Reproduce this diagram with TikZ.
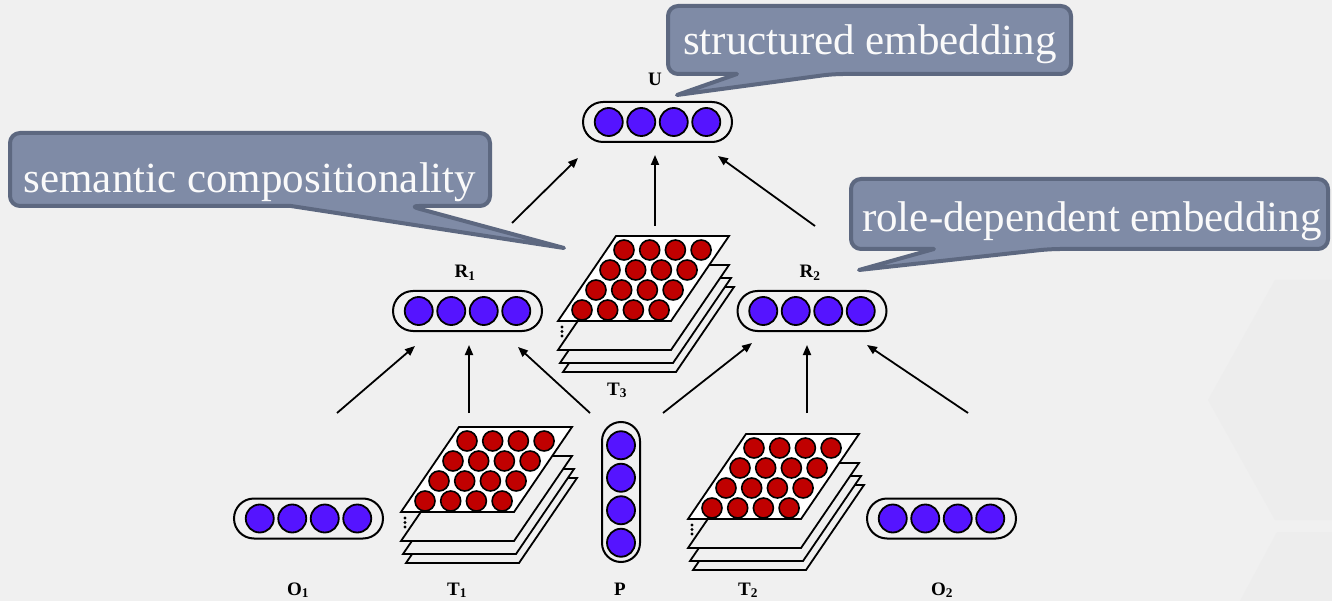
\documentclass[tikz,border=0pt]{standalone}
\usepackage{fontspec}
\setmainfont{Liberation Serif}
\usetikzlibrary{arrows.meta,calc}

\definecolor{bg}{RGB}{240,240,240}
\definecolor{hexshade}{RGB}{237,237,237}
\definecolor{dotblue}{RGB}{85,20,255}
\definecolor{dotred}{RGB}{192,0,0}
\definecolor{calloutfill}{RGB}{127,139,166}
\definecolor{calloutline}{RGB}{93,104,128}
\definecolor{callouttext}{RGB}{250,250,250}

\tikzset{
  bluedot/.style={circle, draw=black, line width=1.8, fill=dotblue, minimum size=28, inner sep=0},
  reddot/.style={circle, draw=black, line width=1.6, fill=dotred, minimum size=20, inner sep=0},
  capsule/.style={draw=black, line width=2, rounded corners=20, inner sep=0},
  plane/.style={draw=black, line width=1.8, line join=miter},
  flow/.style={draw=black, line width=1.8, -{Triangle[length=10pt,width=8pt]}},
  callout/.style={draw=calloutline, fill=calloutfill, line width=4, line join=round},
  calltext/.style={text=callouttext, font=\fontsize{43}{50}\selectfont, inner sep=0, anchor=base},
  lbl/.style={font=\bfseries\fontsize{19}{20}\selectfont, inner sep=0, anchor=base},
  tensor/.pic={
    % stacked slices, back to front
    \foreach \dx/\dy in {5/51, 2/42, 0/29}
      \draw[plane, fill=bg] (\dx,\dy) -- ++(113,0) -- ++(-58,85) -- ++(-113,0) -- cycle;
    \draw[plane, fill=white] (0,0) -- (113,0) -- (55,85) -- (-58,85) -- cycle;
    \foreach \i in {0,...,3}
      \foreach \j in {0,...,3}
        \node[reddot] (-d\i\j) at ({8-14*\i+25.7*\j},{14+20*\i}) {};
    \foreach \k in {91,95.5,100}
      \fill (-54,\k) circle (1.6);
  }
}

% horizontal vector: name, centre x, centre y
\newcommand{\hvector}[3]{%
  \node[capsule, minimum width=149, minimum height=40] (#1) at (#2,#3) {};
  \foreach \k [count=\n] in {-48.75,-16.25,16.25,48.75}
    \node[bluedot] (#1-\n) at ($(#2,#3)+(\k,0)$) {};
}

\begin{document}
\begin{tikzpicture}[x=1pt, y=-1pt]
  \useasboundingbox[fill=bg] (0,0) rectangle (1332,601);

  % faint background shapes on the right
  \fill[hexshade] (1208,400) -- (1275,280) -- (1332,280) -- (1332,520) -- (1275,520) -- cycle;
  \fill[hexshade] (1277,532) -- (1332,532) -- (1332,601) -- (1240,601) -- cycle;

  % vectors
  \hvector{U}{657.5}{122}
  \hvector{R1}{467.5}{311}
  \hvector{R2}{812}{311}
  \hvector{O1}{308.5}{518.5}
  \hvector{O2}{941.5}{518.5}

  \node[capsule, minimum width=38, minimum height=140, rounded corners=19] (P) at (621,492) {};
  \foreach \k [count=\n] in {-48.75,-16.25,16.25,48.75}
    \node[bluedot] (P-\n) at ($(621,494)+(0,\k)$) {};

  % tensors
  \pic (T1) at (459,427) {tensor};
  \pic (T2) at (746,434) {tensor};
  \pic (T3) at (616,236) {tensor};

  % labels
  \node[lbl] (lU)  at (655,86)  {U};
  \node[lbl] (lR1) at (465,278) {R\textsubscript{1}};
  \node[lbl] (lR2) at (810,278) {R\textsubscript{2}};
  \node[lbl] (lT3) at (617,395) {T\textsubscript{3}};
  \node[lbl] (lO1) at (298,595) {O\textsubscript{1}};
  \node[lbl] (lT1) at (457,595) {T\textsubscript{1}};
  \node[lbl] (lP)  at (620,595) {P};
  \node[lbl] (lT2) at (748,595) {T\textsubscript{2}};
  \node[lbl] (lO2) at (942,595) {O\textsubscript{2}};

  % arrow end points
  \coordinate (r1u-s) at (512,223);  \coordinate (r1u-e) at (578,158);
  \coordinate (t3u-s) at (655,226);  \coordinate (t3u-e) at (655,155);
  \coordinate (r2u-s) at (815,226);  \coordinate (r2u-e) at (718,156);
  \coordinate (o1r1-s) at (337,413); \coordinate (o1r1-e) at (415,346);
  \coordinate (t1r1-s) at (469,413); \coordinate (t1r1-e) at (469,345);
  \coordinate (pr1-s) at (590,413);  \coordinate (pr1-e) at (518,347);
  \coordinate (pr2-s) at (663,413);  \coordinate (pr2-e) at (752,343);
  \coordinate (t2r2-s) at (807,413); \coordinate (t2r2-e) at (807,345);
  \coordinate (o2r2-s) at (968,413); \coordinate (o2r2-e) at (867,345);

  \foreach \a in {r1u,t3u,r2u,o1r1,t1r1,pr1,pr2,t2r2,o2r2}
    \draw[flow] (\a-s) -- (\a-e);

  % callouts
  \draw[callout, rounded corners=10] (291,206) -| (10,133) -| (490,206) -- (409,206)
     [sharp corners] -- (564,248) -- cycle;
  \node[calltext] (semtxt) at (250,193) {semantic compositionality};

  \draw[callout, rounded corners=10] (737,74) -| (668,6) -| (1071,74) -- (833,74)
     [sharp corners] -- (677,95) -- cycle;
  \node[calltext] (strtxt) at (870,55) {structured embedding};

  \draw[callout, rounded corners=10] (934,249) -| (851,179) -| (1328,249) -- (1050,249)
     [sharp corners] -- (859,270) -- cycle;
  \node[calltext] (roletxt) at (1092,232) {role-dependent embedding};
\end{tikzpicture}
\end{document}
